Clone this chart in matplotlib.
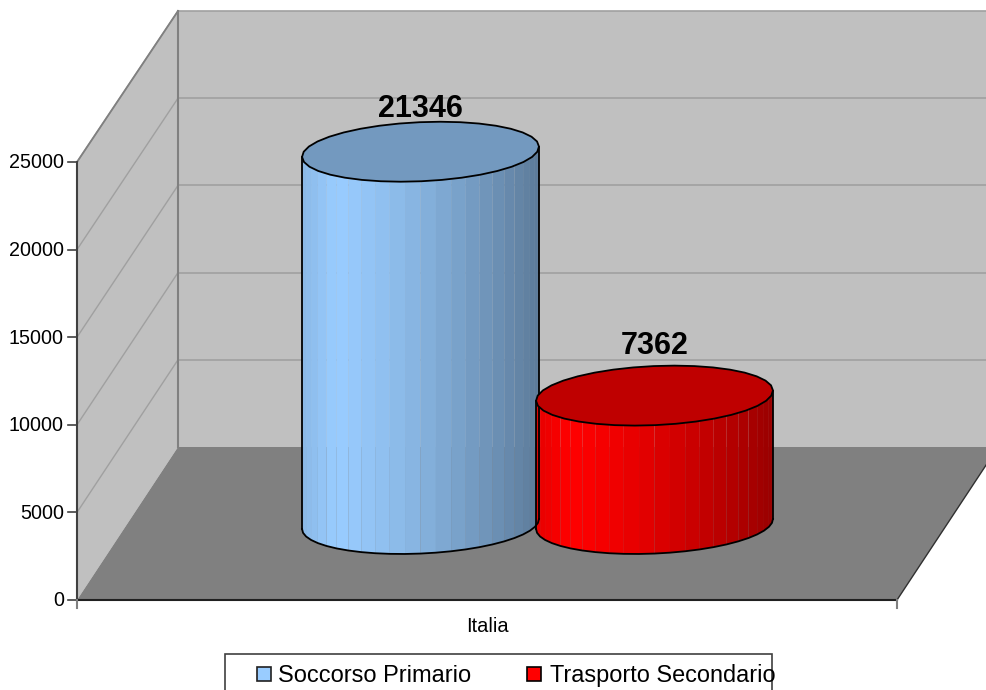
import numpy as np
import matplotlib
matplotlib.use('Agg')
import matplotlib.pyplot as plt
from matplotlib.patches import Polygon, Rectangle

plt.rcParams['font.family'] = ['Liberation Sans', 'DejaVu Sans']

# Data
series_names = ['Soccorso Primario', 'Trasporto Secondario']
series_values = [21346, 7362]
series_colors = [(0.6, 0.8, 1.0), (1.0, 0.0, 0.0)]
category = 'Italia'
y_ticks = [0, 5000, 10000, 15000, 20000, 25000]

# Pixels per value on the vertical axis, y limits keep pixel rows aligned
PX = 438 / 25000
DEPTH_X = 101
DEPTH_Y = 153 / PX
BACK_SCALE = 436 / 438  # the back wall and bars sit further away
FLOOR_RIGHT = 897

fig = plt.figure(figsize=(9.87, 6.9), dpi=100)
ax = fig.add_axes([0, 0, 1, 1])
ax.set_xlim(0, 987)
ax.set_ylim((600 - 690) / PX, 600 / PX)
ax.axis('off')

grid_c = '#a0a0a0'
edge_c = '#808080'
top = y_ticks[-1]
back_top = DEPTH_Y + top * BACK_SCALE

# Walls and floor
ax.add_patch(Rectangle((77 + DEPTH_X, DEPTH_Y), 1000, top * BACK_SCALE, fc='#c0c0c0', ec='none'))
ax.add_patch(Polygon([(77, 0), (77 + DEPTH_X, DEPTH_Y), (77 + DEPTH_X, back_top), (77, top)],
                     fc='#c0c0c0', ec='none'))
ax.add_patch(Polygon([(77, 0), (77 + DEPTH_X, DEPTH_Y), (FLOOR_RIGHT + DEPTH_X, DEPTH_Y), (FLOOR_RIGHT, 0)],
                     fc='#808080', ec='none'))

# Gridlines on both walls
for v in y_ticks[1:]:
    vb = DEPTH_Y + v * BACK_SCALE
    ax.plot([77, 77 + DEPTH_X], [v, vb], color=grid_c, lw=1)
    ax.plot([77 + DEPTH_X, 1100], [vb, vb], color=grid_c, lw=1.2)
ax.plot([77, 77 + DEPTH_X], [top, back_top], color=edge_c, lw=1.3)
ax.plot([77 + DEPTH_X] * 2, [DEPTH_Y, back_top], color=edge_c, lw=1.5)

# Axis lines and ticks
ax.plot([77, 77], [0, top], color='#404040', lw=1.5)
ax.plot([77, FLOOR_RIGHT], [0, 0], color='#202020', lw=1.5)
ax.plot([FLOOR_RIGHT, FLOOR_RIGHT + DEPTH_X], [0, DEPTH_Y], color='#303030', lw=1)
for v in y_ticks:
    ax.plot([68, 77], [v, v], color='#404040', lw=1.2)
    ax.text(64, v - 1 / PX, str(v), ha='right', va='center', fontsize=14.2, color='black')
for x in (77, FLOOR_RIGHT):
    ax.plot([x, x], [0, -8 / PX], color=edge_c, lw=1.5)
ax.text(487, -27 / PX, category, ha='center', va='center', fontsize=14.4, color='black')


def shade(f):
    # brightness across the front of a cylinder, f = 0 left, 1 right
    if f < 0.14:
        return 0.9 + 0.1 * f / 0.14
    return 1.0 - 0.4 * ((f - 0.14) / 0.86) ** 1.3


def ring(cx, base, t):
    # one circle lying flat in the floor plane
    a, b = 116.8, 0.196
    x = cx + a * np.cos(t) + b * DEPTH_X * np.sin(t)
    y = base + b * DEPTH_Y * np.sin(t)
    return x, y


def cylinder(cx, value, color):
    base = 76 / PX
    height = value * BACK_SCALE
    t0 = np.arctan2(0.196 * DEPTH_X, 116.8)
    t = np.linspace(t0 + np.pi, t0 + 2 * np.pi, 25)
    x, y = ring(cx, base, t)
    xmin, xmax = x.min(), x.max()
    for i in range(len(t) - 1):
        f = ((x[i] + x[i + 1]) / 2 - xmin) / (xmax - xmin)
        c = tuple(shade(f) * np.array(color))
        ax.add_patch(Polygon([(x[i], y[i]), (x[i + 1], y[i + 1]),
                              (x[i + 1], y[i + 1] + height), (x[i], y[i] + height)],
                             fc=c, ec='none', lw=0, zorder=5))
    ax.plot(x, y, color='black', lw=1.3, zorder=6)
    ax.plot([x[0], x[0]], [y[0], y[0] + height], color='black', lw=1.3, zorder=6)
    ax.plot([x[-1], x[-1]], [y[-1], y[-1] + height], color='black', lw=1.3, zorder=6)
    tt = np.linspace(0, 2 * np.pi, 37)
    xt, yt = ring(cx, base + height, tt)
    ax.add_patch(Polygon(np.column_stack([xt, yt]), fc=tuple(0.75 * np.array(color)),
                         ec='black', lw=1.3, zorder=7))
    return base + height


centres = [420.5, 654.5]
label_gap = [43, 50]
for cx, value, color, gap in zip(centres, series_values, series_colors, label_gap):
    ytop = cylinder(cx, value, color)
    ax.text(cx, ytop + gap / PX, str(value), ha='center', va='center',
            fontsize=22, fontweight='bold', color='black', zorder=8)

# Legend box runs off the bottom of the picture
ax.add_patch(Rectangle((225, -100 / PX), 547, 46 / PX, fc='white', ec='#404040', lw=1.2))
ax.add_patch(Rectangle((257, -81 / PX), 14, 14 / PX, fc=series_colors[0], ec='#202020', lw=1.2))
ax.text(278, -82 / PX, series_names[0], ha='left', va='baseline', fontsize=17, color='black')
ax.add_patch(Rectangle((527, -81 / PX), 14, 14 / PX, fc=series_colors[1], ec='black', lw=1.2))
ax.text(550, -82 / PX, series_names[1], ha='left', va='baseline', fontsize=16.9, color='black')

fig.savefig('out.png', dpi=100)
